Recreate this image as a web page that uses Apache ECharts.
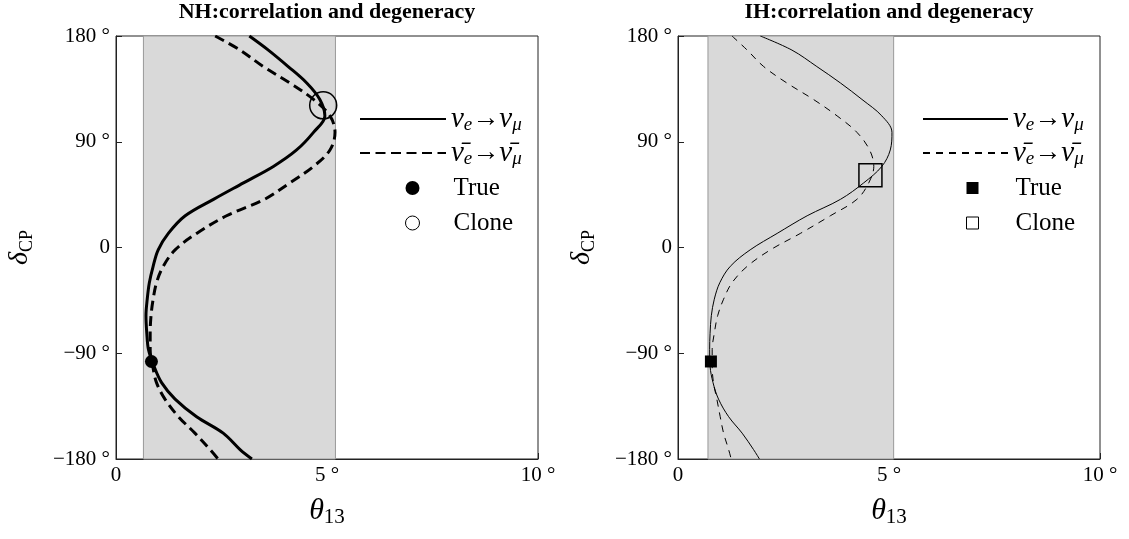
<!DOCTYPE html>
<html>
<head>
<meta charset="utf-8">
<script src="https://cdn.jsdelivr.net/npm/echarts@6/dist/echarts.min.js"></script>
<style>
    html, body { margin: 0; background: #fff; }
    #main { width: 1129px; height: 539px; }
</style>
</head>
<body>
<div id="main"></div>
<script>
// delta_CP sample grid (deg), shared by all four curves
const deltaGrid = [180, 168, 154, 140, 126, 112, 98, 83, 69, 55, 41, 27, 12, -2, -16, -30, -44, -58, -73, -87, -101, -115, -129, -144, -158, -172, -180]

// theta13 (deg) for each delta in deltaGrid
const nhNu = [3.16, 3.61, 4.08, 4.52, 4.83, 4.95, 4.68, 4.28, 3.73, 3.02, 2.31, 1.64, 1.24, 1.0, 0.88, 0.79, 0.74, 0.71, 0.73, 0.77, 0.90, 1.08, 1.40, 1.91, 2.54, 2.94, 3.22]
const nhNuBar = [2.35, 2.94, 3.49, 4.12, 4.68, 5.07, 5.19, 5.07, 4.68, 4.12, 3.52, 2.62, 1.91, 1.40, 1.12, 0.96, 0.88, 0.83, 0.81, 0.81, 0.87, 0.96, 1.16, 1.48, 1.87, 2.23, 2.42]
const ihNu = [1.95, 2.70, 3.29, 3.85, 4.36, 4.83, 5.07, 5.03, 4.83, 4.40, 3.85, 3.06, 2.35, 1.71, 1.24, 0.99, 0.86, 0.79, 0.76, 0.75, 0.76, 0.83, 0.96, 1.20, 1.52, 1.79, 1.93]
const ihNuBar = [1.28, 1.64, 2.03, 2.58, 3.21, 3.77, 4.24, 4.54, 4.64, 4.52, 4.24, 3.61, 2.90, 2.19, 1.64, 1.28, 1.08, 0.94, 0.86, 0.81, 0.81, 0.84, 0.92, 1.00, 1.08, 1.20, 1.26]

// [theta13, delta_CP]
const nhTrue = [0.84, -97]
const nhClone = [4.91, 121]
const ihTrue = [0.78, -97]
const ihClone = [4.56, 61.5]

// shaded theta13 range
const bandNH = [0.65, 5.2]
const bandIH = [0.71, 5.11]

const titles = ['NH:correlation and degeneracy', 'IH:correlation and degeneracy']
const xTicks = [0, 5, 10]
const yTicks = [-180, -90, 0, 90, 180]

const FONT = 'Liberation Serif'

const toPairs = (thetas) => thetas.map((t, i) => [t, deltaGrid[i]])

const degLabel = (v) => {
    if (v === 0) return '0'
    return (v < 0 ? '\u2212' + (-v) : v) + ' \u00b0'
}

const legendText = {
    nu: '{n|\u03bd}{s|e}{a|\u2192}{n|\u03bd}{s|\u03bc}',
    nubar: '{n|\u03bd\u0304}{s|e}{a|\u2192}{n|\u03bd\u0304}{s|\u03bc}'
}

const richLegend = {
    n: { fontFamily: FONT, fontStyle: 'italic', fontSize: 29, lineHeight: 30, color: '#000' },
    s: { fontFamily: FONT, fontStyle: 'italic', fontSize: 19, verticalAlign: 'bottom', color: '#000' },
    a: { fontFamily: FONT, fontSize: 27, lineHeight: 30, color: '#000' },
    g: { width: 29 },
    t: { fontFamily: FONT, fontSize: 25, lineHeight: 30, color: '#000' }
}

const panels = [
    {
        key: 'NH', left: 116, nu: nhNu, nubar: nhNuBar, trueP: nhTrue, cloneP: nhClone, band: bandNH,
        lw: 3, dash: [10, 5.5], sym: 'circle', trueSize: 13, cloneSize: 27,
        lineLegendLeft: 359, lineWidthLegend: 86, markLegendLeft: 405, markSize: 14, gap: 29
    },
    {
        key: 'IH', left: 678, nu: ihNu, nubar: ihNuBar, trueP: ihTrue, cloneP: ihClone, band: bandIH,
        lw: 1, dash: [7, 6], sym: 'rect', trueSize: 12, cloneSize: 23,
        lineLegendLeft: 922, lineWidthLegend: 85, markLegendLeft: 966, markSize: 12, gap: 32
    }
]

const grid = []
const xAxis = []
const yAxis = []
const series = []
const legend = []
const title = []

panels.forEach((p, i) => {
    grid.push({
        left: p.left, top: 36, width: 422, height: 423,
        show: true, backgroundColor: '#fff', borderColor: '#222', borderWidth: 1
    })
    title.push({
        text: titles[i], left: p.left + 211, top: 1, textAlign: 'center', padding: 0,
        textStyle: { fontFamily: FONT, fontWeight: 'bold', fontSize: 22, color: '#000' }
    })
    xAxis.push({
        type: 'value', gridIndex: i, min: xTicks[0], max: xTicks[xTicks.length - 1], interval: 5,
        splitLine: { show: false },
        axisLine: { onZero: false, lineStyle: { color: '#222', width: 1 } },
        axisTick: { inside: true, length: 6, lineStyle: { color: '#222' } },
        axisLabel: { formatter: degLabel, fontFamily: FONT, fontSize: 21, color: '#000', margin: 6 },
        name: '{t|\u03b8}{s|13}', nameLocation: 'middle', nameGap: 35,
        nameTextStyle: {
            rich: {
                t: { fontFamily: FONT, fontStyle: 'italic', fontSize: 30, lineHeight: 34, color: '#000' },
                s: { fontFamily: FONT, fontSize: 21, verticalAlign: 'bottom', color: '#000' }
            }
        }
    })
    yAxis.push({
        type: 'value', gridIndex: i, min: yTicks[0], max: yTicks[yTicks.length - 1], interval: 90,
        splitLine: { show: false },
        axisLine: { onZero: false, lineStyle: { color: '#222', width: 1 } },
        axisTick: { inside: true, length: 6, lineStyle: { color: '#222' } },
        axisLabel: { formatter: degLabel, fontFamily: FONT, fontSize: 21, color: '#000', margin: 6 },
        name: '{d|\u03b4}{s|CP}', nameLocation: 'middle', nameRotate: 90, nameGap: 80,
        nameTextStyle: {
            rich: {
                d: { fontFamily: FONT, fontStyle: 'italic', fontSize: 28, lineHeight: 32, color: '#000' },
                s: { fontFamily: FONT, fontSize: 18, verticalAlign: 'bottom', color: '#000' }
            }
        }
    })

    // shaded band
    series.push({
        type: 'line', xAxisIndex: i, yAxisIndex: i, data: [], z: 1, silent: true,
        markArea: {
            silent: true,
            itemStyle: { color: '#d9d9d9', borderColor: '#999', borderWidth: 1 },
            data: [[{ xAxis: p.band[0] }, { xAxis: p.band[1] }]]
        }
    })
    series.push({
        name: p.key + '-nu', type: 'line', xAxisIndex: i, yAxisIndex: i, z: 3,
        data: toPairs(p.nu), smooth: 0.35, symbol: 'none',
        lineStyle: { color: '#000', width: p.lw, type: 'solid' }, itemStyle: { color: '#000' }
    })
    series.push({
        name: p.key + '-nubar', type: 'line', xAxisIndex: i, yAxisIndex: i, z: 3,
        data: toPairs(p.nubar), smooth: 0.35, symbol: 'none',
        lineStyle: { color: '#000', width: p.lw, type: p.dash }, itemStyle: { color: '#000' }
    })
    series.push({
        name: p.key + '-true', type: 'scatter', xAxisIndex: i, yAxisIndex: i, z: 4,
        data: [p.trueP], symbol: p.sym, symbolSize: p.trueSize,
        itemStyle: { color: '#000', opacity: 1 }
    })
    series.push({
        name: p.key + '-clone', type: 'scatter', xAxisIndex: i, yAxisIndex: i, z: 4,
        data: [p.cloneP], symbol: p.sym, symbolSize: p.cloneSize,
        itemStyle: { color: 'rgba(0,0,0,0)', borderColor: '#000', borderWidth: 1.5, opacity: 1 }
    })

    legend.push({
        orient: 'vertical', left: p.lineLegendLeft, top: 104, itemGap: 4, padding: 0,
        itemWidth: p.lineWidthLegend, itemHeight: 14, selectedMode: false,
        itemStyle: { opacity: 0 },
        data: [p.key + '-nu', p.key + '-nubar'],
        formatter: (name) => name.endsWith('nubar') ? legendText.nubar : legendText.nu,
        textStyle: { fontFamily: FONT, fontSize: 25, lineHeight: 30, color: '#000', rich: richLegend }
    })
    legend.push({
        orient: 'vertical', left: p.markLegendLeft, top: 173, itemGap: 5, padding: 0,
        itemWidth: p.markSize, itemHeight: p.markSize, selectedMode: false,
        data: [
            { name: p.key + '-true', icon: p.sym, itemStyle: { color: '#000', opacity: 1 } },
            { name: p.key + '-clone', icon: p.sym, itemStyle: { color: '#fff', borderColor: '#000', borderWidth: 1, opacity: 1 } }
        ],
        formatter: (name) => '{g| }{t|' + (name.endsWith('true') ? 'True' : 'Clone') + '}',
        textStyle: { fontFamily: FONT, fontSize: 25, lineHeight: 30, color: '#000', rich: Object.assign({}, richLegend, { g: { width: p.gap } }) }
    })
})

const myChart = echarts.init(document.getElementById('main'), null, { renderer: 'canvas' })
myChart.setOption({
    animation: false,
    backgroundColor: '#fff',
    title: title,
    grid: grid,
    xAxis: xAxis,
    yAxis: yAxis,
    legend: legend,
    series: series
})
</script>
</body>
</html>
